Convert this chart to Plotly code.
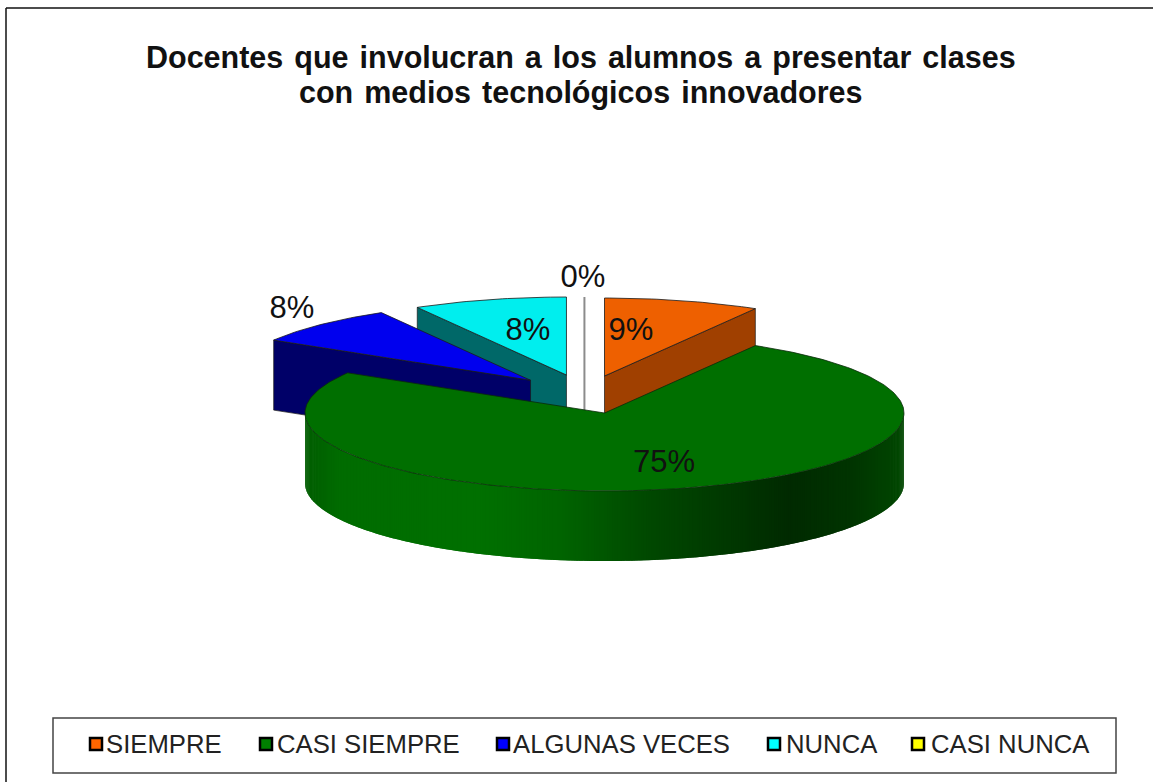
import math
import plotly.graph_objects as go

# ---- data ----
GAP = "\u00a0\u200a"
TITLE_LINES = [GAP.join("Docentes que involucran a los alumnos a presentar clases".split()),
               GAP.join("con medios tecnológicos innovadores".split())]
categories = ["SIEMPRE", "CASI SIEMPRE", "ALGUNAS VECES", "NUNCA", "CASI NUNCA"]
values = [8.4, 75.2, 8.1, 8.3, 0]
labels = ["9%", "75%", "8%", "8%", "0%"]

# ---- styles / layout (pixel-unit axes) ----
top_colors = ["#EE6000", "#006F00", "#0000EE", "#00EEEE", "#EEEE00"]
side_colors = ["#A04000", "#004000", "#000068", "#006868", "#8C8C8C"]
legend_colors = ["#FF6600", "#008000", "#0000FF", "#00FFFF", "#FFFF00"]
CX, CY, RX, RY, DEPTH = 604.5, 413, 299.5, 78, 70
# explosion of each slice, as fractions of the radii
explode = [(0.0, -0.474), (0.0, 0.0), (-0.247, -0.42), (-0.127, -0.487), (-0.067, -0.487)]
label_xy = [(631, 332), (664, 464), (292, 310), (528, 332), (583, 279)]
legend_text_x = [106, 277, 513, 786, 931]
legend_mark_x = [96, 266, 503, 774, 918]
title_y = [57, 92]
LEGEND_Y = 744
FONT = "Liberation Sans"
EDGE = "#1a1a1a"

fig = go.Figure()


def poly(xs, ys, fill, line=EDGE, width=0.8, name=None):
    fig.add_trace(go.Scatter(x=xs, y=ys, mode="lines", fill="toself", fillcolor=fill,
                             line=dict(color=line, width=width), hoverinfo="skip" if name is None else "name",
                             name=name or "", showlegend=False))


def pt(i, theta, r=1.0, drop=0.0):
    ox, oy = explode[i]
    t = math.radians(theta)
    return (CX + RX * (ox + r * math.sin(t)), CY + RY * (oy - r * math.cos(t)) + drop)


def arc(i, a, b, drop=0.0):
    n = max(2, int(abs(b - a)) + 1)
    return [pt(i, a + (b - a) * k / (n - 1), 1.0, drop) for k in range(n)]


def side_shade(x):
    stops = [(305, 92), (340, 108), (480, 112), (560, 100), (650, 72), (720, 58), (790, 42), (850, 52), (904, 72)]
    for (x0, g0), (x1, g1) in zip(stops, stops[1:]):
        if x <= x1:
            return g0 + (g1 - g0) * (x - x0) / (x1 - x0)
    return stops[-1][1]


total = sum(values)
angles = []
acc = 0.0
for v in values:
    angles.append((acc * 360 / total, (acc + v) * 360 / total))
    acc += v


def cut_face(i, theta):
    a, b = pt(i, theta, 0.0), pt(i, theta, 1.0)
    a2, b2 = pt(i, theta, 0.0, DEPTH), pt(i, theta, 1.0, DEPTH)
    poly([a[0], b[0], b2[0], a2[0], a[0]], [a[1], b[1], b2[1], a2[1], a[1]], side_colors[i], width=0.7)


def top_face(i, line=EDGE):
    a, b = angles[i]
    pts = [pt(i, a, 0.0)] + arc(i, a, b) + [pt(i, a, 0.0)]
    poly([p[0] for p in pts], [p[1] for p in pts], top_colors[i], line=line, name=categories[i])


# painter's order: back slices first, the large front slice last
# zero-size slice: only its edge shows
z = 4
a0 = angles[z][0]
p, q = pt(z, a0, 1.0), pt(z, a0, 0.0, DEPTH)
fig.add_trace(go.Scatter(x=[p[0], q[0]], y=[p[1], q[1]], mode="lines", name=categories[z],
                         line=dict(color=side_colors[z], width=2), showlegend=False))
cut_face(0, angles[0][1])
top_face(0)
cut_face(3, angles[3][0])
top_face(3)
cut_face(2, angles[2][0])
top_face(2)

# green: curved front wall with horizontal shading; each strip overlaps the next to hide seams
g = 1
start, end = max(angles[g][0], 90), min(angles[g][1], 270)
steps = int(end - start) * 2
step = (end - start) / steps
for k in range(steps):
    t0 = start + step * k
    t1 = min(end, t0 + 2 * step)
    tm = min(end, t0 + step)
    ts = [t0 + (t1 - t0) * j / 2 for j in range(3)]
    upper = [pt(g, t) for t in ts]
    lower = [pt(g, t, 1.0, DEPTH) for t in reversed(ts)]
    outline = upper + lower + [upper[0]]
    col = "rgb(0,%d,0)" % round(side_shade(pt(g, (t0 + tm) / 2)[0]))
    fig.add_trace(go.Scatter(x=[c[0] for c in outline], y=[c[1] for c in outline],
                             mode="lines", fill="toself", fillcolor=col, line=dict(color=col, width=0),
                             hoverinfo="skip", showlegend=False))
top_face(g, line="#0a2a0a")

# value labels
fig.add_trace(go.Scatter(x=[c[0] for c in label_xy], y=[c[1] for c in label_xy], mode="text", text=labels,
                         textposition="middle center", textfont=dict(family=FONT, size=31, color="#111111"),
                         hoverinfo="skip", showlegend=False))

# legend row
fig.add_trace(go.Scatter(x=legend_mark_x, y=[LEGEND_Y] * 5, mode="markers",
                         marker=dict(symbol="square", size=12, color=legend_colors, line=dict(color="black", width=2.5)),
                         hoverinfo="skip", showlegend=False))
for x, c in zip(legend_text_x, categories):
    fig.add_annotation(x=x, y=LEGEND_Y, text=c, showarrow=False, xanchor="left", yanchor="middle", xshift=-2,
                       font=dict(family=FONT, size=25.7, color="#222222"))

fig.add_shape(type="rect", x0=53, x1=1116, y0=718, y1=773, line=dict(color="#444444", width=1.5))
# chart frame: only the top and left edges are visible in the picture
fig.add_shape(type="line", x0=6, x1=6, y0=8, y1=782, line=dict(color="#111111", width=1.5))
fig.add_shape(type="line", x0=6, x1=1153, y0=8, y1=8, line=dict(color="#111111", width=1.5))

for line_text, y in zip(TITLE_LINES, title_y):
    fig.add_annotation(x=581, y=y, text="<b>%s</b>" % line_text, showarrow=False, xanchor="center", yanchor="middle",
                       font=dict(family=FONT, size=30.5, color="#111111"), align="center")

fig.update_layout(width=1153, height=782, margin=dict(l=0, r=0, t=0, b=0), paper_bgcolor="white",
                  plot_bgcolor="white", showlegend=False,
                  xaxis=dict(range=[0, 1153], visible=False, fixedrange=True),
                  yaxis=dict(range=[782, 0], visible=False, fixedrange=True))
fig.write_html("out.html", config={"displayModeBar": False}, post_script="document.body.style.margin='0';")
